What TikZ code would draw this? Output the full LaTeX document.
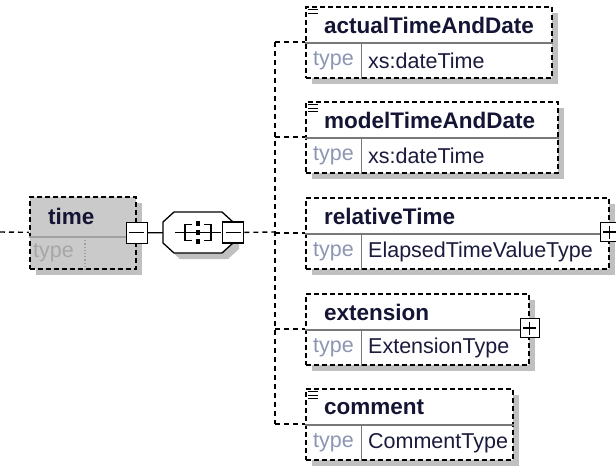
\documentclass[tikz,border=0pt]{standalone}
\usepackage{fontspec}
\setmainfont{Liberation Sans}
\usetikzlibrary{positioning,shadows}

\definecolor{namecol}{RGB}{20,20,52}
\definecolor{typecol}{RGB}{140,150,180}
\definecolor{valcol}{RGB}{26,26,60}
\definecolor{shadecol}{RGB}{192,192,192}
\definecolor{boxfill}{RGB}{202,202,202}
\definecolor{divcol}{RGB}{120,120,120}

\tikzset{
    elembox/.style={draw,line width=1.7pt,dash pattern=on 5pt off 3pt,fill=white,rectangle,
        anchor=north west,inner sep=0pt,minimum height=71pt,
        drop shadow={shadow xshift=6pt,shadow yshift=-6pt,fill=shadecol,opacity=1}},
    timebox/.style={elembox,fill=boxfill},
    namelabel/.style={anchor=west,inner sep=0pt,text=namecol,font=\fontsize{22.5}{26}\selectfont\bfseries},
    typelabel/.style={anchor=west,inner sep=0pt,text=typecol,font=\fontsize{21.5}{25}\selectfont},
    vallabel/.style={anchor=west,inner sep=0pt,text=valcol,font=\fontsize{21.5}{25}\selectfont},
    divline/.style={divcol,line width=1.3pt},
    sepline/.style={divcol,line width=1pt},
    conn/.style={line width=1.4pt,dash pattern=on 5pt off 4pt},
    solidconn/.style={line width=1.4pt},
    colbox/.style={draw,fill=white,line width=1.3pt,minimum size=21pt,inner sep=0pt,
        path picture={\draw[line width=1.2pt] ([xshift=3pt]path picture bounding box.west) -- ([xshift=-3pt]path picture bounding box.east);}},
    expbox/.style={colbox,minimum size=19pt,
        path picture={\draw[line width=1.2pt] ([xshift=3pt]path picture bounding box.west) -- ([xshift=-3pt]path picture bounding box.east);
            \draw[line width=1.2pt] ([yshift=-3pt]path picture bounding box.north) -- ([yshift=3pt]path picture bounding box.south);}},
    seqbox/.style={rectangle,minimum width=70pt,minimum height=41pt,inner sep=0pt}
}

% name, x, y, width, label, type, note lines
\newcommand{\xsdelem}[7]{%
    \node[elembox,minimum width=#4pt] (#1) at (#2,#3) {};
    \draw[divline] ([yshift=-37pt]#1.north west) -- ([yshift=-37pt]#1.north east);
    \draw[sepline] ([xshift=56pt,yshift=-37pt]#1.north west) -- ([xshift=56pt]#1.south west);
    \node[namelabel] (#1-name) at ([xshift=19pt,yshift=-19pt]#1.north west) {#5};
    \node[typelabel] (#1-type) at ([xshift=8pt,yshift=-55pt]#1.north west) {type};
    \node[vallabel] (#1-val) at ([xshift=63pt,yshift=-55pt]#1.north west) {#6};
    \ifnum#7>0
        \foreach \k in {1,...,#7}
            \draw[line width=0.9pt] ([xshift=3pt,yshift=-\k*3.5pt]#1.north west) -- ++(10,0);
    \fi
    \coordinate (#1-in) at ([yshift=-36pt]#1.north west);
}

\begin{document}
\begin{tikzpicture}[x=1pt,y=-1pt]
    \useasboundingbox (0,0) rectangle (616,467);
    \clip (0,0) rectangle (616,467);
    % parent element
    \node[timebox,minimum width=106pt,minimum height=72pt] (time) at (29,196) {};
    \draw[divcol!70,line width=1.2pt] ([yshift=-41pt]time.north west) -- ([yshift=-41pt]time.north east);
    \draw[divcol!70,line width=1.2pt,dotted] ([xshift=56pt,yshift=-41pt]time.north west) -- ([xshift=56pt]time.south west);
    \node[namelabel] (time-name) at ([xshift=19pt,yshift=-20pt]time.north west) {time};
    \node[typelabel,text=black!35] (time-type) at ([xshift=4pt,yshift=-57pt]time.north west) {type};
    \node[colbox] (time-minus) at (time.east) {};
    \coordinate (in) at (0,232);
    \draw[conn] (in) -- (time);
    % sequence compositor
    \node[seqbox] (seq) at (198,232.5) {};
    \fill[shadecol] ([shift={(6,6)}]seq.center) ++(-24,-20.5) -- ++(48,0) -- ++(11,10)
        -- ++(0,21) -- ++(-11,10) -- ++(-48,0) -- ++(-11,-10) -- ++(0,-21) -- cycle;
    \draw[fill=white,line width=1.3pt] (seq.center) ++(-24,-20.5) -- ++(48,0) -- ++(11,10)
        -- ++(0,21) -- ++(-11,10) -- ++(-48,0) -- ++(-11,-10) -- ++(0,-21) -- cycle;
    \draw[line width=1.3pt] ([xshift=-23pt]seq.center) -- ([xshift=23pt]seq.center);
    \draw[line width=1.3pt] ([xshift=-6pt,yshift=8pt]seq.center) -| ([xshift=-13pt,yshift=-8pt]seq.center) -- ++(7,0);
    \draw[line width=1.3pt] ([xshift=6pt,yshift=8pt]seq.center) -| ([xshift=13pt,yshift=-8pt]seq.center) -- ++(-7,0);
    \foreach \d in {-9,0,9}
        \fill ([xshift=-2.2pt,yshift=\d pt-2.8pt]seq.center) rectangle ++(4.4,-5.6);
    \node[colbox] (seq-minus) at (seq.east) {};
    \draw[solidconn] (time-minus) -- (seq);
    % child elements
    \xsdelem{actual}{305}{6}{246}{actualTimeAndDate}{xs:dateTime}{2}
    \xsdelem{model}{305}{101}{252}{modelTimeAndDate}{xs:dateTime}{3}
    \xsdelem{relative}{305}{197}{303}{relativeTime}{ElapsedTimeValueType}{0}
    \xsdelem{ext}{305}{293}{223}{extension}{ExtensionType}{0}
    \xsdelem{comment}{305}{388}{207}{comment}{CommentType}{3}
    \node[expbox] (relative-plus) at ([yshift=-35pt]relative.north east) {};
    \node[expbox] (ext-plus) at ([yshift=-35pt]ext.north east) {};
    % connectors
    \coordinate (branch) at (275,232);
    \draw[conn] (seq-minus) -- (branch);
    \draw[conn] (branch |- actual-in) -- (branch |- comment-in);
    \foreach \e in {actual,model,relative,ext,comment}
        \draw[conn] (branch |- \e-in) -- (\e-in);
\end{tikzpicture}
\end{document}
